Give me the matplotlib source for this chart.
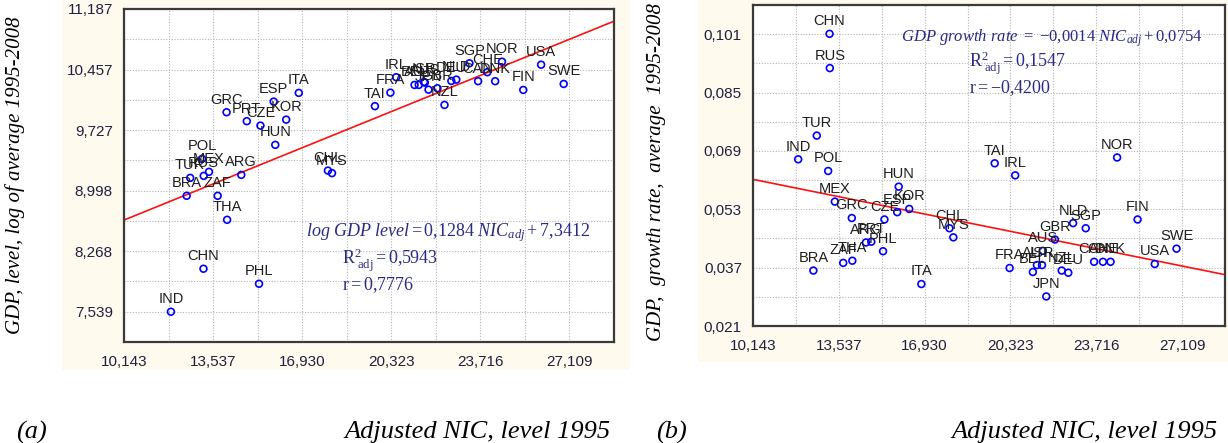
import matplotlib
matplotlib.use("Agg")
import matplotlib.pyplot as plt
from matplotlib.patches import Rectangle
import numpy as np

plt.rcParams['mathtext.fontset'] = 'custom'
plt.rcParams['mathtext.rm'] = 'Liberation Serif'
plt.rcParams['mathtext.it'] = 'Liberation Serif:italic'
plt.rcParams['mathtext.bf'] = 'Liberation Serif:bold'

# ---------------- data ----------------
countries = ["IND", "CHN", "PHL", "THA", "BRA", "ZAF", "TUR", "RUS", "MEX", "POL",
             "ARG", "HUN", "GRC", "PRT", "CZE", "ESP", "KOR", "ITA", "CHL", "MYS",
             "TAI", "FRA", "IRL", "BEL", "AUT", "ISR", "JPN", "AUS", "GBR", "NZL",
             "DEU", "NLD", "SGP", "CAN", "CHE", "DNK", "NOR", "FIN", "USA", "SWE"]
nic_level_1995 = [11930, 13170, 15285, 14070, 12530, 13710, 12665, 13180, 13380, 13115,
                  14610, 15905, 14050, 14820, 15340, 15845, 16320, 16800, 17910, 18065,
                  19700, 20290, 20510, 21210, 21370, 21570, 21740, 21600, 22080, 22350,
                  22610, 22800, 23300, 23630, 23980, 24280, 24540, 25350, 26030, 26890]
log_gdp_level = [7.539, 8.057, 7.876, 8.647, 8.936, 8.936, 9.152, 9.176, 9.225, 9.381,
                 9.188, 9.550, 9.943, 9.835, 9.782, 10.071, 9.854, 10.176, 9.240, 9.209,
                 10.016, 10.179, 10.365, 10.272, 10.272, 10.308, 10.215, 10.300, 10.232, 10.031,
                 10.320, 10.336, 10.533, 10.317, 10.425, 10.317, 10.552, 10.212, 10.516, 10.284]
gdp_growth = [0.0667, 0.1011, 0.0415, 0.0389, 0.0362, 0.0383, 0.0732, 0.0917, 0.0551, 0.0635,
              0.0439, 0.0592, 0.0506, 0.0441, 0.0502, 0.0522, 0.0531, 0.0325, 0.0478, 0.0453,
              0.0656, 0.0369, 0.0623, 0.0358, 0.0377, 0.0377, 0.0291, 0.0416, 0.0447, 0.0362,
              0.0356, 0.0492, 0.0478, 0.0386, 0.0386, 0.0386, 0.0672, 0.0502, 0.0380, 0.0422]

x_ticks = [10143, 13537, 16930, 20323, 23716, 27109]
x_tick_labels = ["10,143", "13,537", "16,930", "20,323", "23,716", "27,109"]
left_y_ticks = [7.539, 8.268, 8.998, 9.727, 10.457, 11.187]
left_y_tick_labels = ["7,539", "8,268", "8,998", "9,727", "10,457", "11,187"]
right_y_ticks = [0.021, 0.037, 0.053, 0.069, 0.085, 0.101]
right_y_tick_labels = ["0,021", "0,037", "0,053", "0,069", "0,085", "0,101"]

left_slope, left_intercept = 0.1284, 7.3412      # per 1000 NIC
right_slope, right_intercept = -0.0014, 0.0754

# ---------------- figure ----------------
W, H = 1228, 443
fig = plt.figure(figsize=(W / 100, H / 100), dpi=100)
fig.patch.set_facecolor("white")

cream = "#fffaee"
fig.patches.append(Rectangle((62 / W, 1 - 370 / H), 568 / W, 370 / H, transform=fig.transFigure,
                             facecolor=cream, edgecolor="none", zorder=-10))
fig.patches.append(Rectangle((698 / W, 1 - 362 / H), 530 / W, 362 / H, transform=fig.transFigure,
                             facecolor=cream, edgecolor="none", zorder=-10))

def px_axes(x0, y0, x1, y1):
    return fig.add_axes([x0 / W, 1 - y1 / H, (x1 - x0) / W, (y1 - y0) / H])

axL = px_axes(124, 9, 614, 342)
axR = px_axes(753, 5, 1225, 326)

xlim = (10143, 10143 + 5.5 * 3393)
tick_color = "#202040"
eq_color = "#2a2a85"


def style(ax, yticks, ylabels, ylim):
    ax.set_facecolor("white")
    ax.set_xlim(*xlim)
    ax.set_ylim(*ylim)
    ax.set_xticks(x_ticks)
    ax.set_xticklabels(x_tick_labels)
    ax.set_yticks(yticks)
    ax.set_yticklabels(ylabels)
    xs = np.array(x_ticks, dtype=float)
    ys = np.array(yticks, dtype=float)
    ax.set_xticks(list(xs[:-1] + (xs[1] - xs[0]) / 2) + [xs[-1] + (xs[1] - xs[0]) / 2], minor=True)
    ax.set_yticks(list(ys[:-1] + (ys[1] - ys[0]) / 2), minor=True)
    ax.grid(True, which="both", linestyle=(0, (1, 1.5)), color="#b5b5b5", linewidth=0.8)
    ax.set_axisbelow(True)
    ax.tick_params(which="both", length=0)
    ax.tick_params(axis="x", pad=9)
    ax.tick_params(axis="y", pad=8)
    for lab in ax.get_xticklabels() + ax.get_yticklabels():
        lab.set_fontfamily("Liberation Sans")
        lab.set_fontsize(11)
        lab.set_color(tick_color)
    for sp in ax.spines.values():
        sp.set_color("#3a3a3a")
        sp.set_linewidth(1.6)


style(axL, left_y_ticks, left_y_tick_labels, (7.539 - 0.3648, 11.187))
style(axR, right_y_ticks, right_y_tick_labels, (0.021, 0.109))

for ax, yvals, slope, intercept in [(axL, log_gdp_level, left_slope, left_intercept),
                                    (axR, gdp_growth, right_slope, right_intercept)]:
    lx = np.array(xlim)
    ax.plot(lx, slope * lx / 1000 + intercept, color="#ff1010", linewidth=1.2, zorder=2)
    ax.scatter(nic_level_1995, yvals, s=24, facecolors="none", edgecolors="#0000ff",
               linewidths=1.2, zorder=3)
    for name, xv, yv in zip(countries, nic_level_1995, yvals):
        ax.annotate(name, (xv, yv), xytext=(0, 4), textcoords="offset points",
                    ha="center", va="bottom", fontsize=10.5, family="Liberation Sans",
                    color="#1e1e1e", zorder=4)

# equations
fig.text(306 / W, 1 - 233 / H,
         r"$\mathit{log\ GDP\ level} = 0{,}1284\ \mathit{NIC}_{\mathit{adj}} + 7{,}3412$",
         fontsize=13, color=eq_color, ha="left", va="center")
fig.text(342 / W, 1 - 260 / H, r"$\mathrm{R}^{2}_{\ \mathrm{adj}} = 0{,}5943$",
         fontsize=13, color=eq_color, ha="left", va="center")
fig.text(342 / W, 1 - 285 / H, r"$\mathrm{r} = 0{,}7776$",
         fontsize=13, color=eq_color, ha="left", va="center")

fig.text(901 / W, 1 - 38 / H,
         r"$\mathit{GDP\ growth\ rate}\ =\ \mathrm{-}0{,}0014\ \mathit{NIC}_{\mathit{adj}} + 0{,}0754$",
         fontsize=12, color=eq_color, ha="left", va="center")
fig.text(969 / W, 1 - 63 / H, r"$\mathrm{R}^{2}_{\ \mathrm{adj}} = 0{,}1547$",
         fontsize=13, color=eq_color, ha="left", va="center")
fig.text(969 / W, 1 - 88 / H, r"$\mathrm{r} = \mathrm{-}0{,}4200$",
         fontsize=13, color=eq_color, ha="left", va="center")

# axis titles
serif = "Liberation Serif"
fig.text(15 / W, 1 - 175 / H, "GDP, level, log of average 1995-2008", rotation=90,
         ha="center", va="center", fontsize=15, family=serif, style="italic", color="black")
fig.text(656 / W, 1 - 172 / H, "GDP,  growth rate,  average  1995-2008", rotation=90,
         ha="center", va="center", fontsize=15, family=serif, style="italic", color="black")

fig.text(16 / W, 1 - 432 / H, "(a)", ha="left", va="center", fontsize=19, family=serif,
         style="italic")
fig.text(611 / W, 1 - 432 / H, "Adjusted NIC, level 1995", ha="right", va="center",
         fontsize=19, family=serif, style="italic")
fig.text(656 / W, 1 - 432 / H, "(b)", ha="left", va="center", fontsize=19, family=serif,
         style="italic")
fig.text(1218 / W, 1 - 432 / H, "Adjusted NIC, level 1995", ha="right", va="center",
         fontsize=19, family=serif, style="italic")

fig.savefig("out.png", dpi=100)
